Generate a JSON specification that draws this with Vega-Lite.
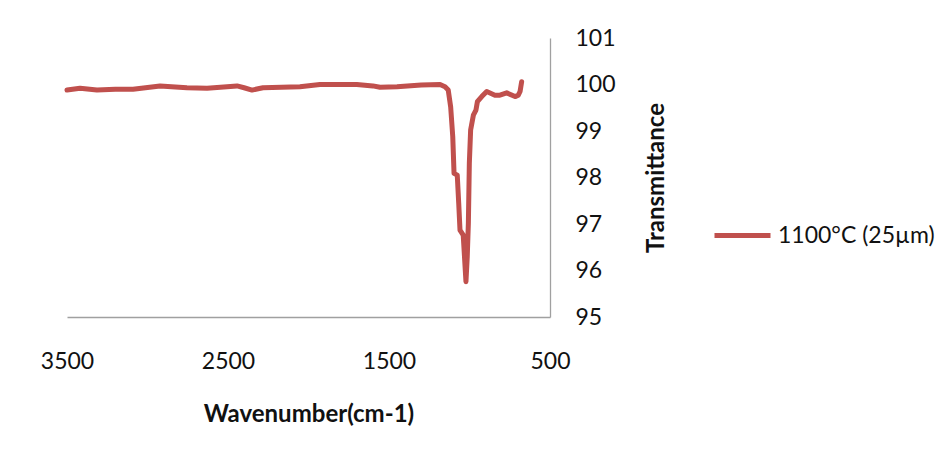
{
  "$schema": "https://vega.github.io/schema/vega-lite/v6.json",
  "autosize": {"type": "none"},
  "padding": {"left": 67, "top": 38, "right": 398, "bottom": 135},
  "width": 483,
  "height": 279,
  "background": "white",
  "config": {
    "view": {"stroke": null},
    "font": "Lato",
    "axis": {"grid": false, "ticks": false, "domainColor": "#a0a0a0", "domainWidth": 1.3, "labelColor": "#111111", "titleColor": "#111111", "labelFont": "Lato", "titleFont": "Lato", "labelFontSize": 23, "titleFontSize": 24, "titleFontWeight": "bold"}
  },
  "data": {
    "values": [
      {"wn": 3500, "t": 99.88, "series": "1100°C (25µm)"},
      {"wn": 3419, "t": 99.92, "series": "1100°C (25µm)"},
      {"wn": 3314, "t": 99.88, "series": "1100°C (25µm)"},
      {"wn": 3200, "t": 99.90, "series": "1100°C (25µm)"},
      {"wn": 3090, "t": 99.90, "series": "1100°C (25µm)"},
      {"wn": 2922, "t": 99.97, "series": "1100°C (25µm)"},
      {"wn": 2755, "t": 99.93, "series": "1100°C (25µm)"},
      {"wn": 2630, "t": 99.92, "series": "1100°C (25µm)"},
      {"wn": 2444, "t": 99.97, "series": "1100°C (25µm)"},
      {"wn": 2400, "t": 99.93, "series": "1100°C (25µm)"},
      {"wn": 2351, "t": 99.88, "series": "1100°C (25µm)"},
      {"wn": 2283, "t": 99.93, "series": "1100°C (25µm)"},
      {"wn": 2053, "t": 99.95, "series": "1100°C (25µm)"},
      {"wn": 1929, "t": 100.0, "series": "1100°C (25µm)"},
      {"wn": 1800, "t": 100.0, "series": "1100°C (25µm)"},
      {"wn": 1700, "t": 100.0, "series": "1100°C (25µm)"},
      {"wn": 1600, "t": 99.97, "series": "1100°C (25µm)"},
      {"wn": 1556, "t": 99.94, "series": "1100°C (25µm)"},
      {"wn": 1450, "t": 99.95, "series": "1100°C (25µm)"},
      {"wn": 1300, "t": 99.99, "series": "1100°C (25µm)"},
      {"wn": 1183, "t": 100.0, "series": "1100°C (25µm)"},
      {"wn": 1152, "t": 99.95, "series": "1100°C (25µm)"},
      {"wn": 1132, "t": 99.88, "series": "1100°C (25µm)"},
      {"wn": 1117, "t": 99.52, "series": "1100°C (25µm)"},
      {"wn": 1104, "t": 98.88, "series": "1100°C (25µm)"},
      {"wn": 1096, "t": 98.09, "series": "1100°C (25µm)"},
      {"wn": 1076, "t": 98.05, "series": "1100°C (25µm)"},
      {"wn": 1067, "t": 97.45, "series": "1100°C (25µm)"},
      {"wn": 1059, "t": 96.87, "series": "1100°C (25µm)"},
      {"wn": 1039, "t": 96.76, "series": "1100°C (25µm)"},
      {"wn": 1022, "t": 95.76, "series": "1100°C (25µm)"},
      {"wn": 1014, "t": 96.30, "series": "1100°C (25µm)"},
      {"wn": 1007, "t": 97.02, "series": "1100°C (25µm)"},
      {"wn": 1001, "t": 98.31, "series": "1100°C (25µm)"},
      {"wn": 993, "t": 99.02, "series": "1100°C (25µm)"},
      {"wn": 976, "t": 99.34, "series": "1100°C (25µm)"},
      {"wn": 960, "t": 99.45, "series": "1100°C (25µm)"},
      {"wn": 951, "t": 99.63, "series": "1100°C (25µm)"},
      {"wn": 924, "t": 99.74, "series": "1100°C (25µm)"},
      {"wn": 893, "t": 99.85, "series": "1100°C (25µm)"},
      {"wn": 842, "t": 99.77, "series": "1100°C (25µm)"},
      {"wn": 811, "t": 99.77, "series": "1100°C (25µm)"},
      {"wn": 769, "t": 99.82, "series": "1100°C (25µm)"},
      {"wn": 717, "t": 99.74, "series": "1100°C (25µm)"},
      {"wn": 697, "t": 99.77, "series": "1100°C (25µm)"},
      {"wn": 686, "t": 99.85, "series": "1100°C (25µm)"},
      {"wn": 676, "t": 100.06, "series": "1100°C (25µm)"}
    ]
  },
  "mark": {"type": "line", "strokeWidth": 5, "strokeJoin": "round", "strokeCap": "round"},
  "encoding": {
    "x": {
      "field": "wn", "type": "quantitative", "sort": null,
      "scale": {"domain": [500, 3500], "reverse": true, "nice": false, "zero": false},
      "axis": {"orient": "bottom", "values": [3500, 2500, 1500, 500], "format": "d", "labelPadding": 33, "title": "Wavenumber(cm-1)", "titlePadding": 29, "labelFlush": false, "labelOverlap": false}
    },
    "y": {
      "field": "t", "type": "quantitative",
      "scale": {"domain": [95, 101], "nice": false, "zero": false},
      "axis": {"orient": "right", "values": [95, 96, 97, 98, 99, 100, 101], "format": "d", "labelPadding": 25, "title": "Transmittance", "titleAngle": 270, "titleBaseline": "top", "titlePadding": 29, "labelFlush": false, "labelOverlap": false}
    },
    "order": {"field": "wn", "type": "quantitative", "sort": "descending"},
    "color": {
      "field": "series", "type": "nominal",
      "scale": {"range": ["#C0504D"]},
      "legend": {"title": null, "orient": "none", "legendX": 645, "legendY": 167, "padding": 0, "symbolType": "stroke", "symbolSize": 3136, "symbolStrokeWidth": 5, "labelFontSize": 23, "labelFont": "Lato", "labelColor": "#111111", "labelOffset": 5}
    }
  }
}
